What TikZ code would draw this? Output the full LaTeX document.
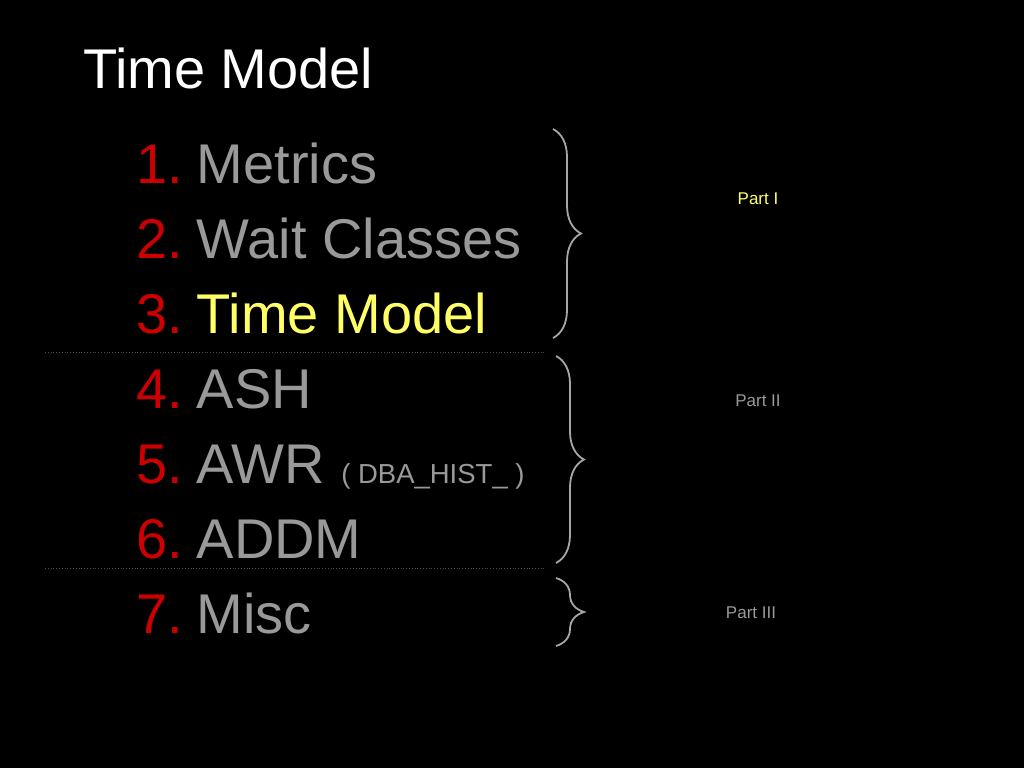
\documentclass[tikz,border=0pt]{standalone}
\usepackage{fontspec}
\setmainfont{Liberation Sans}
\usetikzlibrary{positioning}
\usetikzlibrary{decorations.pathreplacing}
\definecolor{slidegrey}{HTML}{999999}
\definecolor{slidered}{HTML}{CC0000}
\definecolor{slideyellow}{HTML}{FFFF66}
\definecolor{bracegrey}{HTML}{A6A6A6}
\definecolor{rulegrey}{HTML}{4D4D4D}

\begin{document}
\begin{tikzpicture}[
		x=1pt, y=-1pt,
		every node/.style = {inner sep=0pt, outer sep=0pt},
		heading/.style={anchor=base west, text=white, font=\fontsize{56}{60}\selectfont},
		num/.style={anchor=base west, text=slidered, font=\fontsize{56}{60}\selectfont},
		topic/.style={text=slidegrey, font=\fontsize{56}{60}\selectfont},
		current/.style={topic, text=slideyellow},
		note/.style={text=slidegrey, font=\fontsize{27.5}{30}\selectfont},
		part/.style={text=slidegrey, font=\fontsize{17}{19}\selectfont},
		sep/.style={draw=rulegrey, dotted, line width=0.8pt},
		curly/.style={draw=bracegrey, line width=1.8pt, decorate, decoration={brace, amplitude=28pt}}
		]
		\fill[black] (0,0) rectangle (1024,768);
		\useasboundingbox (0,0) rectangle (1024,768);
		\node[heading] (title) at (83,88) {Time Model};
		% numbered list
		\node[num] (n1) at (136,183) {1.};
		\node[num] (n2) at (136,258) {2.};
		\node[num] (n3) at (136,333) {3.};
		\node[num] (n4) at (136,408) {4.};
		\node[num] (n5) at (136,483) {5.};
		\node[num] (n6) at (136,558) {6.};
		\node[num] (n7) at (136,633) {7.};
		\node[topic, right=14pt of n1.base east, anchor=base west] (metrics) {Metrics};
		\node[topic, right=14pt of n2.base east, anchor=base west] (waits) {Wait Classes};
		\node[current, right=14pt of n3.base east, anchor=base west] (timemodel) {Time Model};
		\node[topic, right=14pt of n4.base east, anchor=base west] (ash) {ASH};
		\node[topic, right=14pt of n5.base east, anchor=base west] (awr) {AWR};
		\node[topic, right=14pt of n6.base east, anchor=base west] (addm) {ADDM};
		\node[topic, right=14pt of n7.base east, anchor=base west] (misc) {Misc};
		\node[note, right=16pt of awr.base east, anchor=base west] (hist) {( DBA\_HIST\_ )};
		% separators
		\coordinate (sepAl) at (45,352);
		\coordinate (sepAr) at (545,352);
		\coordinate (sepBl) at (45,568);
		\coordinate (sepBr) at (545,568);
		\draw[sep] (sepAl) -- (sepAr);
		\draw[sep] (sepBl) -- (sepBr);
		% braces
		\coordinate (b1t) at (553,129);
		\coordinate (b1b) at (553,338);
		\coordinate (b2t) at (556,356);
		\coordinate (b2b) at (556,563);
		\coordinate (b3t) at (556,578);
		\coordinate (b3b) at (556,646);
		\draw[curly] (b1t) -- (b1b);
		\draw[curly] (b2t) -- (b2b);
		\draw[curly] (b3t) -- (b3b);
		\node[part, text=slideyellow] (p1) at (758,199) {Part I};
		\node[part] (p2) at (758,401) {Part II};
		\node[part] (p3) at (751,613) {Part III};
	\end{tikzpicture}
\end{document}
